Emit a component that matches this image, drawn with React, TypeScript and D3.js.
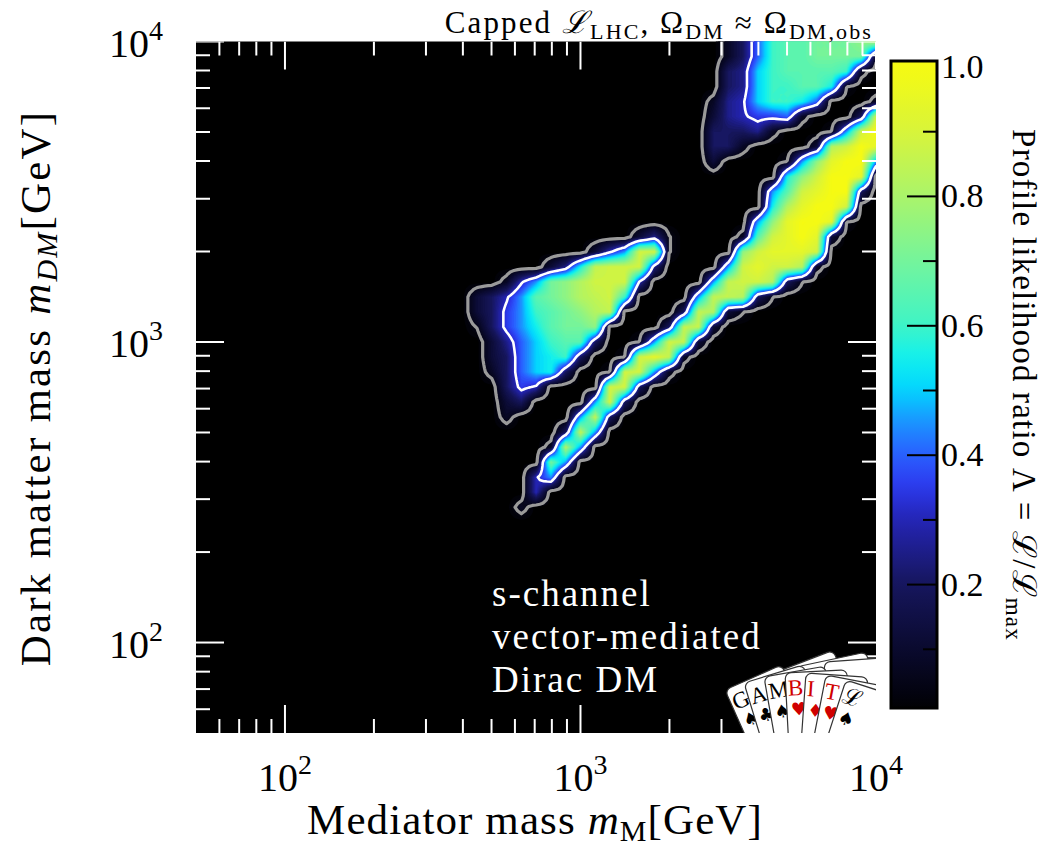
import React, { useMemo } from "react";
import * as d3 from "d3";

// ---------------- data ----------------
const X_DOMAIN: [number, number] = [50, 1e4]; // mediator mass [GeV]
const Y_DOMAIN: [number, number] = [50, 1e4]; // DM mass [GeV]
const MAJOR_TICKS = [100, 1000, 10000];
const MINOR_TICKS = [60, 70, 80, 90, 200, 300, 400, 500, 600, 700, 800, 900, 2000, 3000, 4000, 5000, 6000, 7000, 8000, 9000];
const TICK_EXPONENTS = [2, 3, 4];
const CBAR_MAJOR = [0.2, 0.4, 0.6, 0.8, 1.0];
const CBAR_MINOR = [0.1, 0.3, 0.5, 0.7, 0.9];
const CL_LEVELS = [0.0455, 0.317]; // 95.4% and 68.3% CL (2D)
const NOTE_LINES = ["s-channel", "vector-mediated", "Dirac DM"];

// profile likelihood grid, log10 spacing 0.05; columns log10(mM)=2.50..4.00, rows log10(mDM)=4.00 (top) .. 2.35
const GRID_LOG_MM0 = 2.5;
const GRID_LOG_MDM0 = 4.0;
const GRID_DLOG = 0.05;
const LAMBDA_CODE = "0123456789abcdefghijkl";
const LAMBDA_VALUES = [0, 0.05, 0.08, 0.12, 0.2, 0.25, 0.3, 0.35, 0.4, 0.45, 0.5, 0.55, 0.6, 0.65, 0.7, 0.75, 0.82, 0.85, 0.88, 0.94, 0.97, 1.0];
const LAMBDA_ROWS = [
  "00000000000000000000248cddeeefg",
  "00000000000000000000248cddeeee2",
  "0000000000000000000045acddddc20",
  "0000000000000000000045accddb100",
  "0000000000000000000256accb80002",
  "000000000000000000035677820004i",
  "00000000000000000004445200019il",
  "000000000000000000044200003gilj",
  "00000000000000000003000019fjll9",
  "000000000000000000000000bfillj0",
  "000000000000000000000009dijll40",
  "00000000000000000000000bgjlli00",
  "00000000000000000000009fjllj100",
  "0000000000000035100002dijlj3000",
  "00000000000369ii10000fijjji0000",
  "0000000035bhiii500009ijiig20000",
  "00000269efgiii600009hiig4100000",
  "0003469defghic00009hhg410000000",
  "0003479cdefgh00004hg31000000000",
  "0001479bdeef00004hh300000000000",
  "0000358acdd40019ih3000000000000",
  "0000348abc4001ijh20000000000000",
  "0000248ab4001ii9200000000000000",
  "000004760000ii40000000000000000",
  "000003400009i400000000000000000",
  "00000200009h4000000000000000000",
  "0000000004h90000000000000000000",
  "000000002g900000000000000000000",
  "00000000e9000000000000000000000",
  "0000000690000000000000000000000",
  "0000000600000000000000000000000",
  "0000002000000000000000000000000",
  "0000000000000000000000000000000",
  "0000000000000000000000000000000",
];

// colour map of the likelihood ratio
const CMAP_STOPS = [0, 0.1, 0.2, 0.3, 0.35, 0.4, 0.45, 0.5, 0.55, 0.6, 0.7, 0.8, 0.9, 1.0];
const CMAP_COLORS = ["#000000", "#0a0a2e", "#16165c", "#2424b4", "#2c38ec", "#2a5eff", "#1c92ff", "#02d4ff", "#10f0ee", "#3ef4c6", "#74f49c", "#aaf46a", "#d8f43a", "#f6fa12"];

// ---------------- layout ----------------
const PL = 196, PR = 876, PT = 41.5, PB = 733;
const FONT = "'Liberation Serif', 'DejaVu Serif', serif";

const cmap = d3.scaleLinear<string>().domain(CMAP_STOPS).range(CMAP_COLORS).interpolate(d3.interpolateRgb).clamp(true);

function Logo() {
  const letters = ["G", "A", "M", "B", "I", "T", "ℒ"];
  const suits = ["♠", "♣", "♠", "♥", "♦", "♥", "♠"];
  const red = [false, false, false, true, true, true, false];
  const angles = [-24, -17, -10, -3, 4, 11, 18];
  const corners = [[725, 690], [744, 683], [764, 677], [785, 673], [806, 673], [826, 675], [846, 680]];
  const back = [[766, 676, -21], [796, 667, -12], [824, 662, -4]];
  return (
    <g>
      {back.map(([bx, by, a], i) => (
        <rect key={"b" + i} transform={`translate(${bx},${by}) rotate(${a})`} x={0} y={0} width={72} height={170} rx={6}
          fill="#fff" stroke="#333" strokeWidth={1.2} />
      ))}
      {letters.map((l, i) => (
        <g key={l + i} transform={`translate(${corners[i][0]},${corners[i][1]}) rotate(${angles[i]})`}>
          <rect x={0} y={0} width={62} height={170} rx={6} fill="#fff" stroke="#333" strokeWidth={1.2} />
          <text x={2} y={23} fontSize={23} fill={red[i] ? "#d00000" : "#000"} fontFamily={FONT}>{l}</text>
          <text x={4} y={43} fontSize={18} fill={red[i] ? "#d00000" : "#000"} fontFamily="'DejaVu Sans', sans-serif">{suits[i]}</text>
        </g>
      ))}
    </g>
  );
}

export default function App() {
  const x = d3.scaleLog().domain(X_DOMAIN).range([PL, PR]);
  const y = d3.scaleLog().domain(Y_DOMAIN).range([PB, PT]);
  const yC = d3.scaleLinear().domain([0, 1]).range([714, 67]);

  const { fills, lines } = useMemo(() => {
    const nx = LAMBDA_ROWS[0].length;
    const ny = LAMBDA_ROWS.length;
    const raw = LAMBDA_ROWS.map((r) => Array.from(r.padEnd(nx, "0").slice(0, nx)).map((c) => LAMBDA_VALUES[Math.max(0, LAMBDA_CODE.indexOf(c))]));
    const K = 4;
    const ux = (nx - 1) * K + 1, uy = (ny - 1) * K + 1;
    const up: number[] = new Array(ux * uy);
    for (let j = 0; j < uy; j++) {
      const gy = j / K;
      const j0 = Math.min(Math.floor(gy), ny - 2);
      const ty = gy - j0;
      for (let i = 0; i < ux; i++) {
        const gx = i / K;
        const i0 = Math.min(Math.floor(gx), nx - 2);
        const tx = gx - i0;
        up[j * ux + i] =
          (1 - tx) * (1 - ty) * raw[j0][i0] + tx * (1 - ty) * raw[j0][i0 + 1] +
          (1 - tx) * ty * raw[j0 + 1][i0] + tx * ty * raw[j0 + 1][i0 + 1];
      }
    }
    const toPx = (cx: number) => x(Math.pow(10, GRID_LOG_MM0 + (GRID_DLOG * (cx - 0.5)) / K));
    const toPy = (cy: number) => y(Math.pow(10, GRID_LOG_MDM0 - (GRID_DLOG * (cy - 0.5)) / K));
    const proj = d3.geoTransform({
      point: function (this: any, px: number, py: number) {
        this.stream.point(toPx(px), toPy(py));
      },
    });
    const path = d3.geoPath(proj as any);
    const step = 0.0125;
    const levels = d3.range(step, 1.0001, step);
    const gen = d3.contours().size([ux, uy]);
    const fills = gen.thresholds(levels)(up).map((c) => ({ d: path(c as any) || "", color: cmap(c.value + step / 2) }));
    const lines = gen.thresholds(CL_LEVELS)(up).map((c) => ({ d: path(c as any) || "", value: c.value }));
    return { fills, lines };
  }, []);

  const vBot = yC.invert(708), vTop = yC.invert(61);
  const gradStops = d3.range(0, 41).map((k) => {
    const t = k / 40;
    const v = vBot + t * (vTop - vBot);
    return <stop key={k} offset={t} stopColor={cmap(v)} />;
  });

  return (
    <svg width={1045} height={847} style={{ position: "absolute", left: 0, top: 0, background: "#fff" }} fontFamily={FONT}>
      <defs>
        <clipPath id="plotClip">
          <rect x={PL} y={PT} width={PR - PL} height={PB - PT} />
        </clipPath>
        <linearGradient id="cbarGrad" x1="0" y1="1" x2="0" y2="0">
          {gradStops}
        </linearGradient>
      </defs>

      <rect x={PL} y={PT} width={PR - PL} height={PB - PT} fill="#000" />
      <g clipPath="url(#plotClip)">
        {fills.map((f, i) => (
          <path key={i} d={f.d} fill={f.color} />
        ))}
        {lines.map((l, i) => (
          <path key={"l" + i} d={l.d} fill="none" stroke={l.value < 0.1 ? "#9a9a9a" : "#ffffff"} strokeWidth={l.value < 0.1 ? 3.2 : 2.6} strokeLinejoin="round" />
        ))}
        {[...MAJOR_TICKS.map((v) => [v, 28]), ...MINOR_TICKS.map((v) => [v, 14])].map(([v, len], i) => (
          <g key={"t" + i} stroke="#fff" strokeWidth={2}>
            <line x1={x(v)} x2={x(v)} y1={PB} y2={PB - len} />
            <line x1={x(v)} x2={x(v)} y1={PT} y2={PT + len} />
            <line y1={y(v)} y2={y(v)} x1={PL} x2={PL + len} />
            <line y1={y(v)} y2={y(v)} x1={PR} x2={PR - len} />
          </g>
        ))}
        <Logo />
      </g>

      {NOTE_LINES.map((s, i) => (
        <text key={s} x={492} y={606 + i * 43} fontSize={37} fill="#fff" letterSpacing={2} fontFamily={FONT}>{s}</text>
      ))}

      {TICK_EXPONENTS.map((e) => (
        <text key={"xl" + e} x={x(Math.pow(10, e))} y={791} textAnchor="middle" fontSize={40} fontFamily={FONT}>
          10<tspan fontSize={28} dy={-17}>{e}</tspan>
        </text>
      ))}
      {TICK_EXPONENTS.map((e) => (
        <text key={"yl" + e} x={163} y={y(Math.pow(10, e)) + 15} textAnchor="end" fontSize={40} fontFamily={FONT}>
          10<tspan fontSize={28} dy={-17}>{e}</tspan>
        </text>
      ))}

      <text x={535} y={834} textAnchor="middle" fontSize={43} letterSpacing={1.1} fontFamily={FONT}>
        Mediator mass <tspan fontStyle="italic">m</tspan>
        <tspan fontSize={30} dy={7}>M</tspan>
        <tspan dy={-7}>[GeV]</tspan>
      </text>
      <text transform="translate(50,388) rotate(-90)" textAnchor="middle" fontSize={43} letterSpacing={2.2} fontFamily={FONT}>
        Dark matter mass <tspan fontStyle="italic">m</tspan>
        <tspan fontStyle="italic" fontSize={30} dy={7}>DM</tspan>
        <tspan dy={-7}>[GeV]</tspan>
      </text>

      <text x={873} y={33} textAnchor="end" fontSize={31} letterSpacing={2.1} fontFamily={FONT}>
        Capped <tspan fontStyle="italic">ℒ</tspan>
        <tspan fontSize={22} dy={6}>LHC</tspan>
        <tspan dy={-6}>, Ω</tspan>
        <tspan fontSize={22} dy={6}>DM</tspan>
        <tspan dy={-6}> ≈ Ω</tspan>
        <tspan fontSize={22} dy={6}>DM,obs</tspan>
      </text>

      <rect x={891} y={61} width={46} height={647} fill="url(#cbarGrad)" stroke="#000" strokeWidth={3} />
      {[...CBAR_MAJOR.filter((v) => v < 1).map((v) => [v, 30]), ...CBAR_MINOR.map((v) => [v, 14])].map(([v, len], i) => (
        <line key={"c" + i} x1={937} x2={937 - len} y1={yC(v)} y2={yC(v)} stroke="#000" strokeWidth={2} />
      ))}
      {CBAR_MAJOR.map((v) => (
        <text key={"cl" + v} x={941} y={yC(v) + 11} fontSize={34} fontFamily={FONT}>{v.toFixed(1)}</text>
      ))}
      <text transform="translate(1013,385) rotate(90)" textAnchor="middle" fontSize={33} letterSpacing={1.2} fontFamily={FONT}>
        Profile likelihood ratio Λ = ℒ/ℒ<tspan fontSize={23} dy={7}>max</tspan>
      </text>
    </svg>
  );
}
